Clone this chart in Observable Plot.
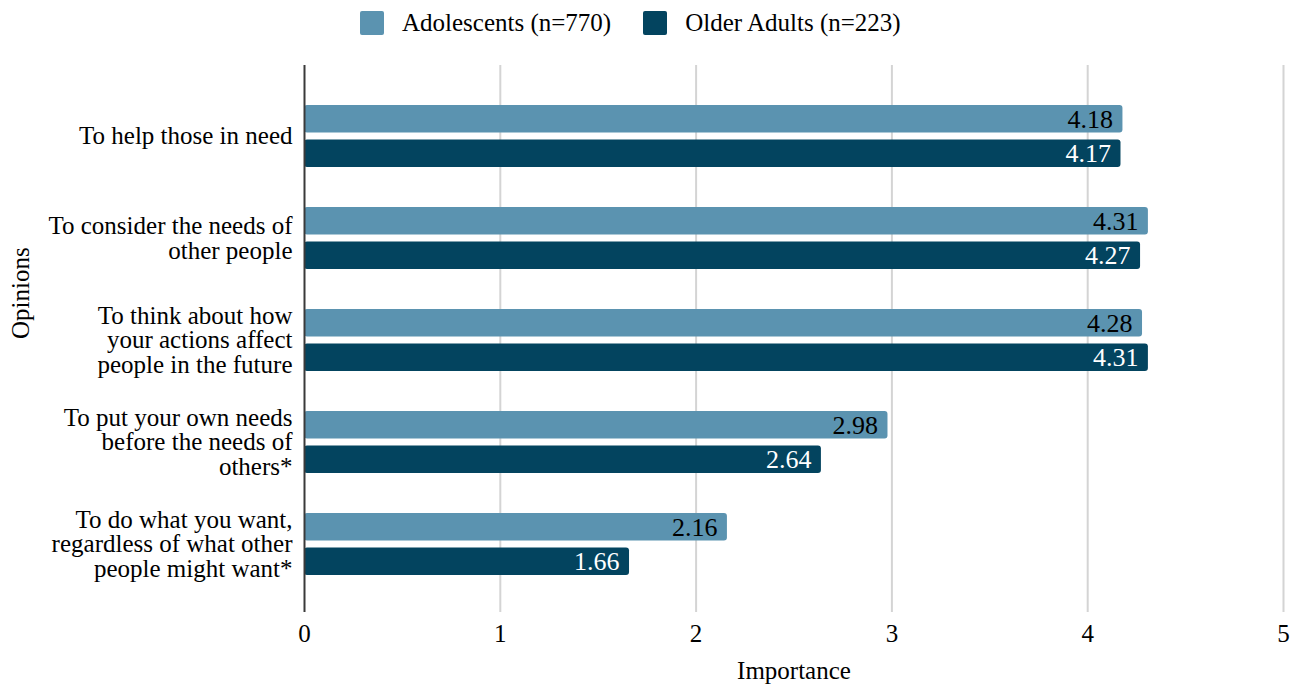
<!DOCTYPE html>
<html>
<head>
<meta charset="utf-8">
<script src="https://cdn.jsdelivr.net/npm/d3@7"></script>
<script src="https://cdn.jsdelivr.net/npm/@observablehq/plot@0.6"></script>
<style>
  body { margin: 0; background: #fff; font-family: "Liberation Serif", "Times New Roman", Times, "DejaVu Serif", serif; color: #000; }
  #legend { height: 46px; display: flex; align-items: center; padding-left: 360px; box-sizing: border-box; font-size: 25px; }
  #legend .item { display: flex; align-items: center; margin-right: 32px; }
  #legend .sw { width: 24px; height: 24px; border-radius: 2px; margin-right: 18px; }
  #chart svg { display: block; }
  #chart svg text { font-family: "Liberation Serif", "Times New Roman", Times, "DejaVu Serif", serif; }
</style>
</head>
<body>
<div id="legend"></div>
<div id="chart"></div>
<script>
// Survey items (y categories) and their wrapped tick labels
const opinions = [
  "To help those in need",
  "To consider the needs of other people",
  "To think about how your actions affect people in the future",
  "To put your own needs before the needs of others*",
  "To do what you want, regardless of what other people might want*"
];
const opinionLabels = [
  "To help those in need",
  "To consider the needs of\nother people",
  "To think about how\nyour actions affect\npeople in the future",
  "To put your own needs\nbefore the needs of\nothers*",
  "To do what you want,\nregardless of what other\npeople might want*"
];

// Mean importance ratings per group
const adolescents = [4.18, 4.31, 4.28, 2.98, 2.16];
const olderAdults = [4.17, 4.27, 4.31, 2.64, 1.66];

const groups = ["Adolescents (n=770)", "Older Adults (n=223)"];
const groupColors = ["#5b93b0", "#03445f"];
const labelColors = ["#000000", "#ffffff"];
const xTicks = [0, 1, 2, 3, 4, 5];

const adRows = opinions.map((opinion, i) => ({opinion, value: adolescents[i]}));
const oaRows = opinions.map((opinion, i) => ({opinion, value: olderAdults[i]}));

// Legend
const legend = document.getElementById("legend");
groups.forEach((g, i) => {
  const item = document.createElement("div");
  item.className = "item";
  const sw = document.createElement("div");
  sw.className = "sw";
  sw.style.background = groupColors[i];
  const label = document.createElement("span");
  label.textContent = g;
  item.append(sw, label);
  legend.append(item);
});

const fmt = d => d.toFixed(2);
const serif = "'Liberation Serif', 'Times New Roman', Times, 'DejaVu Serif', serif";

const chart = Plot.plot({
  width: 1299,
  height: 638,
  marginTop: 19,
  marginBottom: 72,
  marginLeft: 304,
  marginRight: 16,
  style: {fontFamily: serif, fontSize: "25px", color: "#000", background: "#fff"},
  x: {domain: [0, 5]},
  y: {domain: opinions, range: [37, 550], padding: 0},
  marks: [
    Plot.ruleX(xTicks.slice(1), {stroke: "#d4d4d4", strokeWidth: 2}),
    Plot.barX(adRows, {x: "value", y: "opinion", fill: groupColors[0], insetTop: 20, insetBottom: 54.5, rx: 3}),
    Plot.barX(oaRows, {x: "value", y: "opinion", fill: groupColors[1], insetTop: 54.5, insetBottom: 20, rx: 3}),
    Plot.ruleX([0], {stroke: "#3a3a3a", strokeWidth: 2}),
    Plot.text(adRows, {x: "value", y: "opinion", text: d => fmt(d.value), textAnchor: "end", dx: -10, dy: -17, fontSize: 26, fill: labelColors[0]}),
    Plot.text(oaRows, {x: "value", y: "opinion", text: d => fmt(d.value), textAnchor: "end", dx: -10, dy: 17, fontSize: 26, fill: labelColors[1]}),
    Plot.axisX({ticks: xTicks, tickSize: 0, tickPadding: 12, tickFormat: d3.format("d"), label: null}),
    Plot.axisY({tickSize: 0, tickPadding: 12, lineHeight: 0.98, tickFormat: d => opinionLabels[opinions.indexOf(d)], label: null}),
    Plot.text(["Importance"], {frameAnchor: "bottom", lineAnchor: "middle", dy: 58, text: d => d}),
    Plot.text(["Opinions"], {frameAnchor: "left", lineAnchor: "middle", dx: -284, rotate: -90, text: d => d})
  ]
});
document.getElementById("chart").append(chart);
</script>
</body>
</html>
